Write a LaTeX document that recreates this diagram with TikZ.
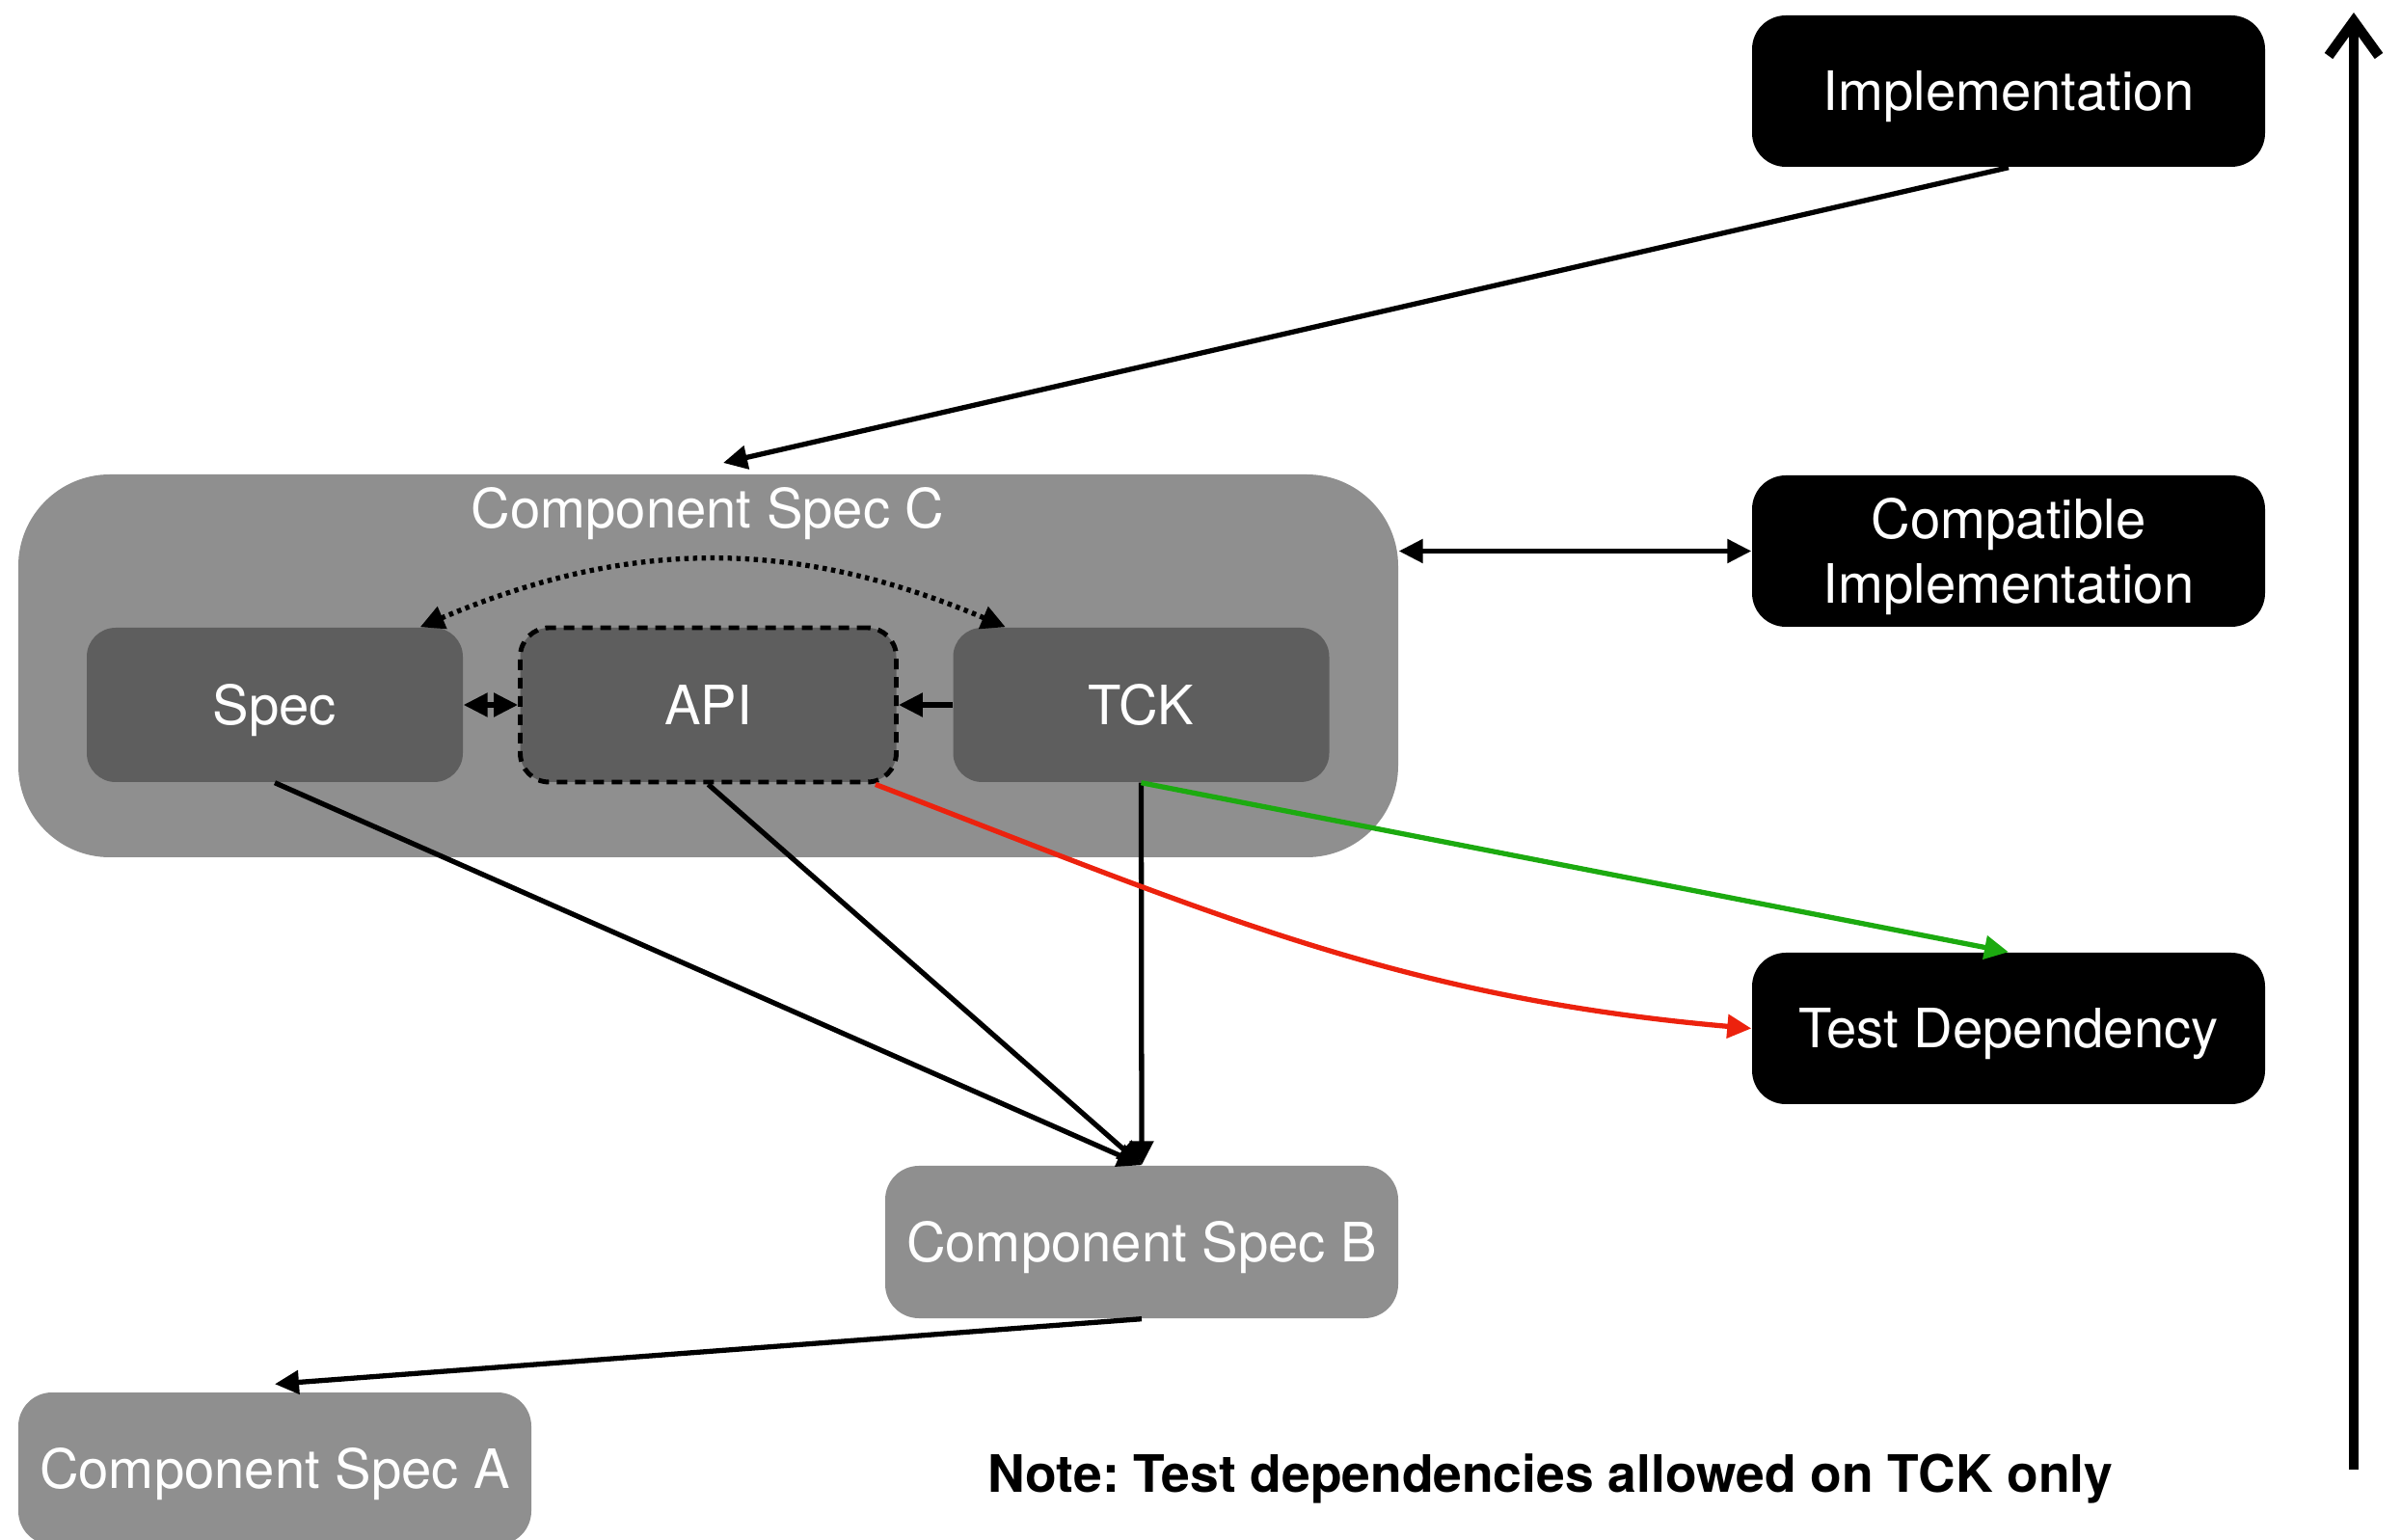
\documentclass[tikz,border=0pt]{standalone}
\usepackage{fontspec}
\setmainfont{TeX Gyre Heros}
\usetikzlibrary{arrows.meta}
\frenchspacing

\definecolor{boxgrey}{RGB}{143,143,143}
\definecolor{partgrey}{RGB}{94,94,94}
\definecolor{testgreen}{RGB}{28,170,16}
\definecolor{testred}{RGB}{236,34,14}

\tikzset{
  txt/.style={font=\fontsize{16}{19}\selectfont, text height=11.5pt, text depth=0pt},
  implbox/.style={txt, rectangle, rounded corners=0.35cm, fill=black, text=white,
    minimum width=5.32cm, minimum height=1.57cm, inner sep=0pt, align=center},
  specbox/.style={txt, rectangle, rounded corners=0.35cm, fill=boxgrey, text=white,
    minimum width=5.32cm, minimum height=1.58cm, inner sep=0pt},
  partbox/.style={txt, rectangle, rounded corners=0.3cm, fill=partgrey, text=white,
    minimum width=3.9cm, minimum height=1.6cm, inner sep=0pt},
  conn/.style={line width=1.5pt, >={Triangle[length=0.25cm,width=0.24cm]}},
}

\begin{document}
\begin{tikzpicture}[x=1cm,y=1cm]
\useasboundingbox (0,0) rectangle (24.9,-15.97);

\node[rectangle, rounded corners=0.95cm, fill=boxgrey, minimum width=14.31cm, minimum height=3.97cm, inner sep=0pt](C) at (7.345,-6.905) {};
\node[txt, text=white](clabel) at (7.34,-5.27) {Component Spec C};

\node[partbox](spec) at (2.85,-7.31) {Spec};
\node[partbox, draw=black, line width=1.4pt, dash pattern=on 0.11cm off 0.08cm](api) at (7.345,-7.31) {API};
\node[partbox](tck) at (11.835,-7.31) {TCK};

\node[implbox](impl) at (20.83,-0.945) {Implementation};
\node[implbox, text height=30.5pt](compat) at (20.83,-5.715) {Compatible\\Implementation};
\node[implbox](testdep) at (20.83,-10.665) {Test Dependency};

\node[specbox](B) at (11.84,-12.88) {Component Spec B};
\node[specbox](A) at (2.85,-15.23) {Component Spec A};

\node[font=\fontsize{15.2}{18}\selectfont\bfseries, text height=11pt, text depth=0pt](note) at (16.08,-15.28) {Note: Test dependencies allowed on TCK only};

\coordinate (ctop) at (7.5,-4.8);
\coordinate (levlow) at (24.41,-15.24);
\coordinate (levhigh) at (24.41,-0.13);

\draw[conn,->] (impl.south) -- (ctop);
\draw[conn,<->] (compat.west) -- (compat.west -| C.east);
\draw[conn,<->, dash pattern=on 0.045cm off 0.045cm] ([xshift=-0.45cm]spec.north east) to[bend left=23] ([xshift=0.55cm]tck.north west);
\draw[conn,<->] (spec.east) -- (api.west);
\draw[conn,->] (tck.west) -- (api.east);

\draw[conn,->] (spec.south) -- (B.north);
\draw[conn,->] (api.south) -- (B.north);
\draw[conn,->] (tck.south) -- (B.north);
\draw[conn,->, testgreen] (tck.south) -- (testdep.north);
\draw[conn,->, testred] ([xshift=-0.24cm]api.south east) to[out=-21, in=175] (testdep.west);
\draw[conn,->] (B.south) -- ([yshift=0.08cm]A.north);

\draw[line width=3pt, -{Straight Barb[length=0.36cm,width=0.52cm]}] (levlow) -- (levhigh);
\end{tikzpicture}
\end{document}
